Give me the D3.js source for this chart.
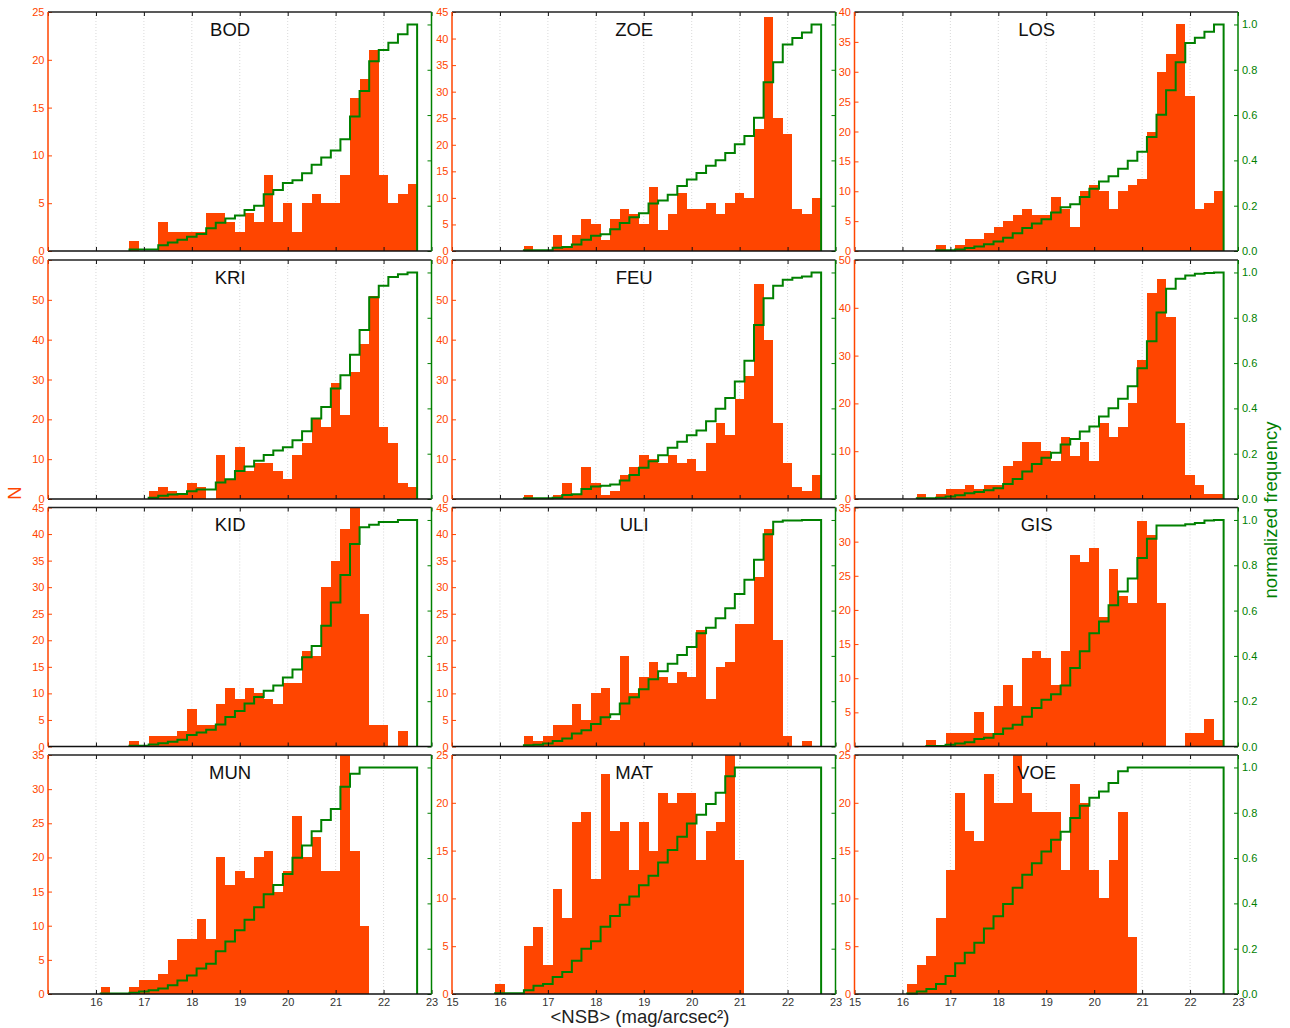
<!DOCTYPE html>
<html>
<head>
<meta charset="utf-8">
<script src="https://cdn.jsdelivr.net/npm/d3@7"></script>
<style>
  body { margin: 0; background: #fff; }
  svg text { font-family: "Liberation Sans", Arial, sans-serif; }
</style>
</head>
<body>
<svg id="fig" width="1290" height="1028"></svg>
<script>
// Survey names, one panel each (3 columns x 4 rows)
const panelNames = ["BOD", "ZOE", "LOS", "KRI", "FEU", "GRU", "KID", "ULI", "GIS", "MUN", "MAT", "VOE"];

// Left edge (mag/arcsec^2) of the first bin of each panel; bins are 0.2 wide and run to 22.7
const binStarts = [16.7, 16.5, 16.7, 17.1, 16.5, 16.3, 16.7, 16.5, 16.5, 16.1, 15.9, 16.1];
const binWidth = 0.2;

// Upper limit and tick step of the count (left) axis of each panel
const countMax  = [25, 45, 40, 60, 60, 50, 45, 45, 35, 35, 25, 25];
const countStep = [5, 5, 5, 10, 10, 10, 5, 5, 5, 5, 5, 5];

// Galaxy counts per <NSB> bin
const countsBOD = [1,0,0,3,2,2,2,2,4,4,3,2,4,3,8,3,5,2,5,6,5,5,8,16,18,21,8,5,6,7];
const countsZOE = [1,0,0,3,1,3,6,5,2,6,8,7,5,12,4,7,11,8,8,9,7,9,11,10,23,44,25,22,8,7,10];
const countsLOS = [1,0,1,2,2,3,4,5,6,7,6,6,9,7,4,10,11,10,7,10,11,12,20,30,33,38,26,7,8,10];
const countsKRI = [2,3,2,1,4,3,0,11,5,13,7,9,9,7,5,11,14,20,18,29,21,32,39,51,18,14,4,3];
const countsFEU = [1,0,0,1,4,1,8,4,1,2,6,8,11,10,9,11,9,10,7,14,19,16,25,31,54,40,19,9,3,2,6];
const countsGRU = [1,0,1,2,2,3,2,3,3,7,8,12,12,10,8,13,9,12,8,16,13,15,20,29,43,46,38,16,5,3,1,1];
const countsKID = [1,0,2,2,2,3,7,4,4,8,11,9,11,10,9,8,12,12,18,17,30,35,41,46,25,4,4,0,3,0];
const countsULI = [2,1,2,4,4,8,5,10,11,5,17,10,13,16,13,12,14,13,22,9,15,16,23,23,32,41,20,2,0,1,0];
const countsGIS = [1,0,2,2,2,5,2,6,9,6,13,14,13,9,14,28,27,29,19,26,22,21,33,31,21,0,0,2,2,4,1];
const countsMUN = [1,0,0,1,2,2,3,5,8,8,11,8,20,16,18,17,20,21,15,18,26,20,23,18,18,36,21,10,0,0,0,0,0];
const countsMAT = [1,0,0,5,7,3,11,8,18,19,12,23,17,18,13,18,15,21,20,21,21,14,17,18,26,14,0,0,0,0,0,0,0,0];
const countsVOE = [1,3,4,8,13,21,17,16,23,20,20,26,21,19,19,19,13,22,20,13,10,14,19,6,0,0,0,0,0,0,0,0,0];

const panelCounts = [countsBOD, countsZOE, countsLOS, countsKRI, countsFEU, countsGRU,
                     countsKID, countsULI, countsGIS, countsMUN, countsMAT, countsVOE];

// Axis ticks
const xTickValues = [15, 16, 17, 18, 19, 20, 21, 22, 23];
const normTickValues = [0.0, 0.2, 0.4, 0.6, 0.8, 1.0];

// Text
const xAxisTitle = "<NSB> (mag/arcsec²)";
const leftAxisTitle = "N";
const rightAxisTitle = "normalized frequency";

const barColor = "#ff4500";
const cumColor = "#008000";

const svg = d3.select("#fig");
const colLeft = [48, 452, 854.5];
const colW = 383.5;
const rowTop = [12, 260, 507.5, 755];
const rowH = 239;

panelNames.forEach((name, i) => {
  const col = i % 3, row = Math.floor(i / 3);
  const g = svg.append("g").attr("transform", `translate(${colLeft[col]},${rowTop[row]})`);

  const x = d3.scaleLinear().domain([15, 23]).range([0, colW]);
  const y = d3.scaleLinear().domain([0, countMax[i]]).range([rowH, 0]);
  const yn = d3.scaleLinear().domain([0, 1.055]).range([rowH, 0]);

  const counts = panelCounts[i];
  const bins = counts.map((n, k) => ({
    x0: +(binStarts[i] + k * binWidth).toFixed(2),
    x1: +(binStarts[i] + (k + 1) * binWidth).toFixed(2),
    n
  }));
  const total = d3.sum(counts);
  const cum = d3.cumsum(counts).map(v => v / total);

  const clipId = "clip" + i;
  g.append("clipPath").attr("id", clipId)
    .append("rect").attr("width", colW).attr("height", rowH);

  // dotted vertical grid at the integer magnitudes
  g.append("g").selectAll("line")
    .data(xTickValues.slice(1, -1))
    .join("line")
    .attr("x1", d => x(d)).attr("x2", d => x(d))
    .attr("y1", 0).attr("y2", rowH)
    .attr("stroke", "#cfcfcf").attr("stroke-width", 0.8)
    .attr("stroke-dasharray", "1,2");

  // histogram bars
  g.append("g").attr("clip-path", `url(#${clipId})`)
    .selectAll("rect")
    .data(bins.filter(b => b.n > 0))
    .join("rect")
    .attr("x", d => x(d.x0))
    .attr("width", d => x(d.x1) - x(d.x0))
    .attr("y", d => y(d.n))
    .attr("height", d => rowH - y(d.n))
    .attr("fill", barColor)
    .attr("shape-rendering", "crispEdges");

  // normalized cumulative step outline
  const pts = [[bins[0].x0, 0]];
  bins.forEach((b, k) => { pts.push([b.x0, cum[k]]); pts.push([b.x1, cum[k]]); });
  pts.push([bins[bins.length - 1].x1, 0]);
  g.append("path")
    .attr("d", d3.line().x(d => x(d[0])).y(d => yn(d[1]))(pts))
    .attr("fill", "none")
    .attr("stroke", cumColor)
    .attr("stroke-width", 2)
    .attr("stroke-linejoin", "miter");

  // left (count) axis
  const leftTicks = d3.range(0, countMax[i] + 0.001, countStep[i]);
  const la = g.append("g").call(
    d3.axisLeft(y).tickValues(leftTicks).tickSize(-4).tickPadding(3.5).tickFormat(d3.format("d")));
  la.select(".domain").remove();
  la.selectAll("line").attr("stroke", barColor);
  la.selectAll("text").attr("fill", barColor).style("font-size", "11px");

  // right (normalized) axis
  const ra = g.append("g").attr("transform", `translate(${colW},0)`).call(
    d3.axisRight(yn).tickValues(normTickValues).tickSize(-4).tickPadding(4)
      .tickFormat(col === 2 ? d3.format(".1f") : () => ""));
  ra.select(".domain").remove();
  ra.selectAll("line").attr("stroke", cumColor);
  ra.selectAll("text").attr("fill", cumColor).style("font-size", "11px");

  // top and bottom x axes
  const ta = g.append("g").call(
    d3.axisTop(x).tickValues(xTickValues).tickSize(-4).tickFormat(() => ""));
  ta.select(".domain").remove();
  ta.selectAll("line").attr("stroke", "#111");

  const bottomRow = row === 3;
  const ba = g.append("g").attr("transform", `translate(0,${rowH})`).call(
    d3.axisBottom(x).tickValues(xTickValues).tickSize(-4).tickPadding(4)
      .tickFormat(d => (!bottomRow || (col === 0 && d === 15)) ? "" : String(d)));
  ba.select(".domain").remove();
  ba.selectAll("line").attr("stroke", "#111");
  ba.selectAll("text").attr("fill", "#333").style("font-size", "11px");

  // spines
  g.append("line").attr("x1", 0).attr("x2", colW).attr("y1", 0).attr("y2", 0)
    .attr("stroke", "#222").attr("stroke-width", 1.5);
  g.append("line").attr("x1", 0).attr("x2", colW).attr("y1", rowH).attr("y2", rowH)
    .attr("stroke", "#111").attr("stroke-width", 1.5);
  g.append("line").attr("x1", 0).attr("x2", 0).attr("y1", 0).attr("y2", rowH)
    .attr("stroke", barColor).attr("stroke-width", 1.5);
  g.append("line").attr("x1", colW).attr("x2", colW).attr("y1", 0).attr("y2", rowH)
    .attr("stroke", cumColor).attr("stroke-width", 1.5);

  // panel title
  g.append("text")
    .attr("x", colW * 0.475).attr("y", 23.5)
    .attr("text-anchor", "middle")
    .attr("fill", "#111")
    .style("font-size", "18.5px")
    .text(name);
});

// shared axis titles
svg.append("text")
  .attr("x", 640).attr("y", 1023)
  .attr("text-anchor", "middle")
  .attr("fill", "#222")
  .style("font-size", "18.5px")
  .text(xAxisTitle);

svg.append("text")
  .attr("transform", "translate(20.5,493) rotate(-90)")
  .attr("text-anchor", "middle")
  .attr("fill", barColor)
  .style("font-size", "18.5px")
  .text(leftAxisTitle);

svg.append("text")
  .attr("transform", "translate(1277,510) rotate(-90)")
  .attr("text-anchor", "middle")
  .attr("fill", cumColor)
  .style("font-size", "18.5px")
  .text(rightAxisTitle);
</script>
</body>
</html>
